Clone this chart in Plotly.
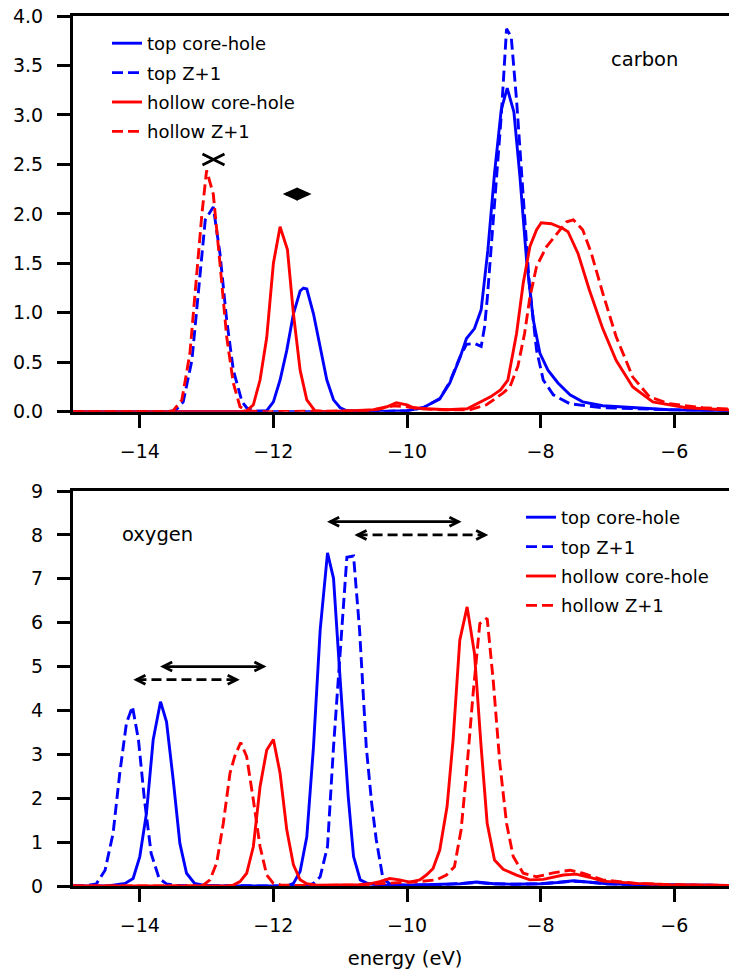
import plotly.graph_objects as go

# ---------------- data: carbon ----------------
c_top_ch_E = [-15, -12.3, -12.1, -12.0, -11.9, -11.8, -11.7, -11.6, -11.55, -11.5, -11.4, -11.3, -11.2, -11.1,
              -11.0, -10.9, -10.5, -10.0, -9.76, -9.51, -9.36, -9.21, -9.11, -8.99, -8.89, -8.79, -8.69, -8.59,
              -8.50, -8.40, -8.31, -8.21, -8.11, -8.01, -7.89, -7.74, -7.56, -7.37, -7.07, -6.57, -6.07, -5.5, -5.0]
c_top_ch_I = [0, 0, 0.01, 0.1, 0.32, 0.62, 0.99, 1.22, 1.25, 1.24, 0.99, 0.65, 0.32, 0.12,
              0.04, 0.01, 0.0, 0.01, 0.04, 0.13, 0.29, 0.54, 0.74, 0.84, 1.03, 1.63, 2.41, 3.05,
              3.27, 3.03, 2.38, 1.53, 0.93, 0.59, 0.42, 0.29, 0.17, 0.10, 0.06, 0.04, 0.02, 0.01, 0.01]

c_top_z1_E = [-15, -13.6, -13.47, -13.35, -13.22, -13.11, -13.02, -12.9, -12.8, -12.7, -12.6, -12.47, -12.4,
              -12.3, -12.0, -10.5, -10.0, -9.76, -9.51, -9.36, -9.21, -9.11, -8.99, -8.89, -8.84, -8.80, -8.69,
              -8.59, -8.51, -8.44, -8.36, -8.26, -8.17, -8.06, -7.96, -7.81, -7.56, -7.07, -6.07, -5.0]
c_top_z1_I = [0, 0, 0.01, 0.1, 0.52, 1.26, 1.94, 2.07, 1.6, 0.93, 0.42, 0.1, 0.04,
              0.01, 0, 0, 0.01, 0.04, 0.13, 0.3, 0.55, 0.68, 0.69, 0.66, 0.85, 1.13, 2.14,
              2.98, 3.87, 3.79, 3.15, 2.14, 1.30, 0.62, 0.32, 0.17, 0.08, 0.04, 0.02, 0.01]

c_hol_ch_E = [-15, -12.5, -12.4, -12.3, -12.2, -12.1, -12.0, -11.9, -11.79, -11.7, -11.6, -11.5, -11.38, -11.2,
              -10.8, -10.5, -10.3, -10.16, -10.0, -9.9, -9.7, -9.4, -9.1, -8.9, -8.75, -8.6, -8.49, -8.36,
              -8.26, -8.16, -8.06, -7.99, -7.84, -7.66, -7.59, -7.44, -7.27, -7.07, -6.87, -6.62, -6.32,
              -5.82, -5.0]
c_hol_ch_I = [0, 0, 0.01, 0.07, 0.32, 0.75, 1.5, 1.87, 1.64, 0.99, 0.42, 0.12, 0.01, 0,
              0.01, 0.02, 0.05, 0.09, 0.07, 0.04, 0.03, 0.02, 0.03, 0.1, 0.15, 0.22, 0.32, 0.79,
              1.30, 1.67, 1.84, 1.91, 1.90, 1.85, 1.82, 1.60, 1.23, 0.84, 0.52, 0.25, 0.10,
              0.04, 0.01]

c_hol_z1_E = [-15, -13.6, -13.5, -13.37, -13.25, -13.15, -13.07, -13.0, -12.9, -12.8, -12.7, -12.6, -12.5,
              -12.4, -12.2, -10.6, -10.4, -10.2, -10.0, -9.8, -9.5, -9.06, -8.81, -8.56, -8.46, -8.34, -8.24,
              -8.16, -8.06, -7.91, -7.76, -7.61, -7.51, -7.37, -7.24, -7.07, -6.87, -6.62, -6.37, -6.07,
              -5.57, -5.0]
c_hol_z1_I = [0, 0, 0.01, 0.12, 0.59, 1.40, 2.0, 2.44, 2.2, 1.5, 0.76, 0.29, 0.05,
              0.01, 0, 0.01, 0.03, 0.06, 0.05, 0.03, 0.02, 0.02, 0.07, 0.19, 0.25, 0.46, 0.79,
              1.16, 1.47, 1.67, 1.80, 1.92, 1.94, 1.84, 1.60, 1.20, 0.76, 0.35, 0.15, 0.08,
              0.04, 0.02]

# ---------------- data: oxygen ----------------
o_top_ch_E = [-15, -14.5, -14.40, -14.22, -14.10, -14.0, -13.90, -13.80, -13.69, -13.60, -13.50, -13.40,
              -13.30, -13.18, -13.05, -12.9, -11.8, -11.70, -11.60, -11.50, -11.40, -11.30, -11.19, -11.10,
              -11.0, -10.88, -10.80, -10.70, -10.58, -10.4, -10.0, -9.5, -9.2, -8.96, -8.7, -8.4, -8.0,
              -7.75, -7.51, -7.3, -7.0, -6.5, -6.0, -5.0]
o_top_ch_I = [0, 0, 0.02, 0.06, 0.17, 0.67, 1.66, 3.33, 4.20, 3.74, 2.42, 0.97,
              0.29, 0.06, 0.02, 0, 0, 0.06, 0.33, 1.12, 3.17, 5.83, 7.59, 7.01,
              4.69, 2.04, 0.67, 0.14, 0.05, 0.02, 0.02, 0.03, 0.05, 0.09, 0.05, 0.04, 0.05,
              0.08, 0.12, 0.09, 0.05, 0.03, 0.02, 0.01]

o_top_z1_E = [-15, -14.8, -14.65, -14.52, -14.40, -14.30, -14.20, -14.11, -14.02, -13.93, -13.83, -13.71,
              -13.60, -13.45, -11.5, -11.40, -11.30, -11.19, -11.10, -11.0, -10.90, -10.80, -10.71, -10.61,
              -10.53, -10.46, -10.36, -10.25, -10.0, -9.5, -9.2, -8.96, -8.7, -8.4, -8.0, -7.75, -7.51,
              -7.3, -7.0, -6.5, -6.0, -5.0]
o_top_z1_I = [0, 0.01, 0.05, 0.36, 1.2, 2.57, 3.71, 4.09, 3.33, 1.96, 0.74, 0.17,
              0.05, 0.01, 0, 0.06, 0.21, 0.9, 3.17, 5.45, 7.49, 7.52, 5.83, 3.17,
              1.9, 1.05, 0.17, 0.04, 0.02, 0.03, 0.05, 0.08, 0.05, 0.04, 0.05, 0.08, 0.11,
              0.09, 0.05, 0.03, 0.02, 0.01]

o_hol_ch_E = [-15, -12.7, -12.60, -12.50, -12.40, -12.30, -12.20, -12.10, -12.0, -11.90, -11.80, -11.70,
              -11.60, -11.50, -11.35, -11.0, -10.7, -10.56, -10.41, -10.26, -10.11, -9.96, -9.81, -9.71,
              -9.61, -9.51, -9.40, -9.31, -9.21, -9.10, -8.99, -8.89, -8.80, -8.69, -8.56, -8.36, -8.16,
              -7.96, -7.66, -7.47, -7.27, -7.07, -6.57, -6.07, -5.0]
o_hol_ch_I = [0, 0, 0.02, 0.10, 0.29, 0.9, 2.26, 3.10, 3.34, 2.57, 1.28, 0.48,
              0.14, 0.05, 0.02, 0.02, 0.03, 0.05, 0.10, 0.17, 0.14, 0.09, 0.14, 0.25,
              0.40, 0.82, 1.81, 3.33, 5.60, 6.36, 5.30, 3.17, 1.43, 0.59, 0.38, 0.25, 0.14,
              0.15, 0.25, 0.27, 0.20, 0.11, 0.06, 0.03, 0.01]

o_hol_z1_E = [-15, -13.2, -13.05, -12.95, -12.85, -12.75, -12.65, -12.58, -12.49, -12.40, -12.30, -12.20,
              -12.10, -12.0, -11.88, -11.5, -10.8, -10.4, -10.1, -9.81, -9.56, -9.41, -9.29, -9.19, -9.11,
              -9.01, -8.91, -8.80, -8.71, -8.61, -8.51, -8.41, -8.26, -8.06, -7.81, -7.56, -7.37, -7.07,
              -6.57, -6.07, -5.0]
o_hol_z1_I = [0, 0, 0.02, 0.14, 0.52, 1.43, 2.57, 2.95, 3.27, 2.95, 1.96, 0.90,
              0.25, 0.06, 0.02, 0.01, 0.02, 0.05, 0.07, 0.10, 0.14, 0.25, 0.44, 1.28, 2.57,
              4.39, 5.98, 6.10, 4.69, 2.79, 1.43, 0.67, 0.29, 0.21, 0.30, 0.36, 0.29, 0.14,
              0.06, 0.03, 0.01]

series_names = ["top core-hole", "top Z+1", "hollow core-hole", "hollow Z+1"]

# peak-shift arrows: (x_start, x_end, y, style)
carbon_arrows = [(-12.897, -12.897, 2.55, "dash"), (-11.81, -11.48, 2.2, "solid")]
oxygen_arrows = [(-13.65, -12.15, 5.0, "solid"), (-14.05, -12.55, 4.7, "dash"),
                 (-11.15, -9.23, 8.3, "solid"), (-10.74, -8.83, 8.0, "dash")]

FONT = "DejaVu Sans"
BLUE = "rgb(0,0,255)"
RED = "rgb(255,0,0)"
DASH = "11px,5px"
LW = 2.9
H = 971.0

fig = go.Figure()

carbon = [(c_top_ch_E, c_top_ch_I), (c_top_z1_E, c_top_z1_I), (c_hol_ch_E, c_hol_ch_I), (c_hol_z1_E, c_hol_z1_I)]
oxygen = [(o_top_ch_E, o_top_ch_I), (o_top_z1_E, o_top_z1_I), (o_hol_ch_E, o_hol_ch_I), (o_hol_z1_E, o_hol_z1_I)]
colors = [BLUE, BLUE, RED, RED]
dashes = ["solid", DASH, "solid", DASH]

for i, (E, I) in enumerate(carbon):
    fig.add_trace(go.Scatter(x=E, y=I, mode="lines", name=series_names[i],
                             line=dict(color=colors[i], width=LW, dash=dashes[i]),
                             xaxis="x", yaxis="y", legend="legend", legendgroup="c%d" % i))
for i, (E, I) in enumerate(oxygen):
    fig.add_trace(go.Scatter(x=E, y=I, mode="lines", name=series_names[i],
                             line=dict(color=colors[i], width=LW, dash=dashes[i]),
                             xaxis="x2", yaxis="y2", legend="legend2", legendgroup="o%d" % i))

shapes = []


def add_arrow(x0, x1, y, style, xr, yr, hl, hw, filled=False):
    if x1 != x0:
        shapes.append(dict(type="line", xref=xr, yref=yr, x0=x0, x1=x1, y0=y, y1=y,
                           line=dict(color="black", width=2.8, dash="solid" if style == "solid" else "10px,5px")))
    close = " Z" if filled else ""
    fill = "black" if filled else "rgba(0,0,0,0)"
    # left-pointing head at x0, right-pointing head at x1
    shapes.append(dict(type="path", xref=xr, yref=yr, xsizemode="pixel", ysizemode="pixel",
                       xanchor=x0, yanchor=y, path="M %g %g L 0 0 L %g %g%s" % (hl, hw, hl, -hw, close),
                       line=dict(color="black", width=2.8), fillcolor=fill))
    shapes.append(dict(type="path", xref=xr, yref=yr, xsizemode="pixel", ysizemode="pixel",
                       xanchor=x1, yanchor=y, path="M %g %g L 0 0 L %g %g%s" % (-hl, hw, -hl, -hw, close),
                       line=dict(color="black", width=2.8), fillcolor=fill))


add_arrow(*carbon_arrows[0], "x", "y", 11, 5.5)
add_arrow(*carbon_arrows[1], "x", "y", 10, 4.5, filled=True)
for a in oxygen_arrows:
    add_arrow(a[0], a[1], a[2], a[3], "x2", "y2", 9, 4.5)

axis_common = dict(showgrid=False, zeroline=False, showline=True, linecolor="black", linewidth=3,
                   ticks="outside", ticklen=13, tickwidth=3, tickcolor="black", ticklabeloverflow="allow",
                   tickfont=dict(family=FONT, size=19, color="black"), layer="below traces")
xticks = dict(tickvals=[-14, -12, -10, -8, -6], ticklabelstandoff=7, mirror=True)

fig.update_layout(
    width=737, height=971,
    margin=dict(l=65, r=8, t=0, b=0, autoexpand=False),
    paper_bgcolor="white", plot_bgcolor="white",
    template="none",
    font=dict(family=FONT, color="black"),
    showlegend=True,
    xaxis=dict(domain=[0, 1], anchor="y", range=[-15, -5.06], **xticks, **axis_common),
    yaxis=dict(domain=[1 - 403.7 / H, 1 - 8 / H], anchor="x", range=[0, 4],
               tickvals=[0, 0.5, 1, 1.5, 2, 2.5, 3, 3.5, 4], tickformat=".1f", ticklabelstandoff=10,
               **axis_common),
    xaxis2=dict(domain=[0, 1], anchor="y2", range=[-15, -5.06],
                title=dict(text="energy (eV)", font=dict(family=FONT, size=19.5), standoff=17),
                **xticks, **axis_common),
    yaxis2=dict(domain=[1 - 878 / H, 1 - 483 / H], anchor="x2", range=[0, 9], tickvals=list(range(10)),
                ticklabelstandoff=10, **axis_common),
    legend=dict(xref="container", yref="container", x=99 / 737, y=1 - 17 / H, xanchor="left", yanchor="top",
                font=dict(family=FONT, size=18), bgcolor="rgba(0,0,0,0)", tracegroupgap=3, traceorder="grouped"),
    legend2=dict(xref="container", yref="container", x=513 / 737, y=1 - 491 / H, xanchor="left", yanchor="top",
                 font=dict(family=FONT, size=18), bgcolor="rgba(0,0,0,0)", tracegroupgap=3, traceorder="grouped"),
    shapes=shapes,
    annotations=[
        dict(text="carbon", x=-6.98, y=3.556, xref="x", yref="y", xanchor="left", yanchor="middle",
             showarrow=False, font=dict(family=FONT, size=19.5, color="black")),
        dict(text="oxygen", x=-14.30, y=8.02, xref="x2", yref="y2", xanchor="left", yanchor="middle",
             showarrow=False, font=dict(family=FONT, size=19.5, color="black")),
    ],
)

fig.write_html("out.html")
